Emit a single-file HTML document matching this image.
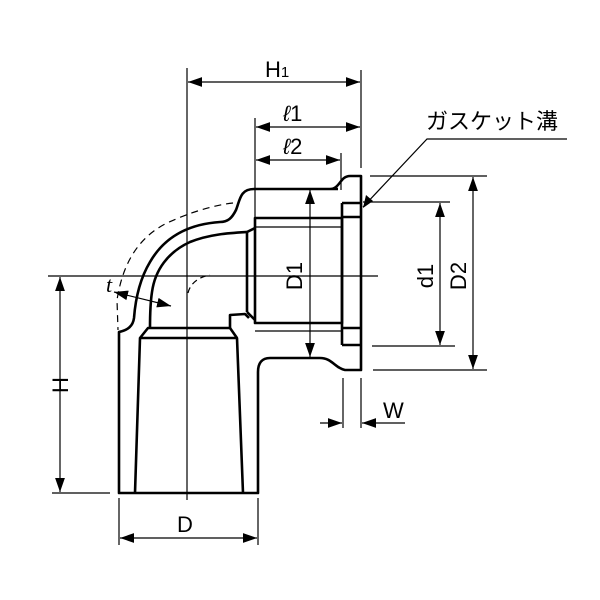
<!DOCTYPE html>
<html><head><meta charset="utf-8"><style>html,body{margin:0;padding:0;background:#fff}svg{display:block}</style></head>
<body>
<svg width="600" height="600" viewBox="0 0 600 600" xmlns="http://www.w3.org/2000/svg">
<defs>
<marker id="a" viewBox="0 0 10 10" refX="10" refY="5" markerWidth="14" markerHeight="14" markerUnits="userSpaceOnUse" orient="auto-start-reverse"><path d="M0,1.5 L10,5 L0,8.5 Z" fill="#000"/></marker>
</defs>
<g fill="none" stroke="#000" stroke-width="1.2">
<line x1="187" y1="68" x2="187" y2="500"/>
<line x1="48" y1="276" x2="378" y2="276"/>
<line x1="361" y1="70" x2="361" y2="168"/>
<line x1="255" y1="118" x2="255" y2="218"/>
<line x1="341" y1="153" x2="341" y2="190"/>
<line x1="370" y1="176" x2="487" y2="176"/>
<line x1="373" y1="370" x2="487" y2="370"/>
<line x1="363" y1="202" x2="450" y2="202"/>
<line x1="372" y1="346" x2="455" y2="346"/>
<line x1="343" y1="378" x2="343" y2="428"/>
<line x1="361" y1="378" x2="361" y2="428"/>
<line x1="52" y1="493" x2="110" y2="493"/>
<line x1="119" y1="498" x2="119" y2="545"/>
<line x1="258" y1="498" x2="258" y2="545"/>
<line x1="188" y1="82" x2="360" y2="82" marker-start="url(#a)" marker-end="url(#a)"/>
<line x1="256" y1="127" x2="360" y2="127" marker-start="url(#a)" marker-end="url(#a)"/>
<line x1="256" y1="160" x2="340" y2="160" marker-start="url(#a)" marker-end="url(#a)"/>
<line x1="310" y1="190" x2="310" y2="357" marker-start="url(#a)" marker-end="url(#a)"/>
<line x1="440" y1="203" x2="440" y2="345" marker-start="url(#a)" marker-end="url(#a)"/>
<line x1="473" y1="177" x2="473" y2="369" marker-start="url(#a)" marker-end="url(#a)"/>
<line x1="60" y1="277" x2="60" y2="492" marker-start="url(#a)" marker-end="url(#a)"/>
<line x1="120" y1="538" x2="257" y2="538" marker-start="url(#a)" marker-end="url(#a)"/>
<line x1="320" y1="423" x2="342" y2="423" marker-end="url(#a)"/>
<line x1="405" y1="423" x2="362" y2="423" marker-end="url(#a)"/>
<line x1="114" y1="292" x2="171" y2="306" marker-start="url(#a)" marker-end="url(#a)"/>
<polyline points="567,139 427,139 363,207" />
<path d="M233,203 C215,205 190,212 165,224 C135,240 122,268 117,300 L118,330" stroke-dasharray="7,5"/>
<path d="M188,293 C190,284 198,277 210,275" stroke-dasharray="6,4"/>
</g>
<path d="M363,208 L366,195 L373,201 Z" fill="#000"/>
<g fill="none" stroke="#000" stroke-width="2.6" stroke-linejoin="round">
<path d="M338,189 L254,189 C240,189 240,200 236,210 C232,218 228,222 220,222 C190,224 165,236 150,262 C138,282 135,305 134,318 C133,326 128,330 119,332 L119,493 L258,493 L258,372 C258,363 262,358 270,358 L320,358 C332,358 335,368 345,370 L361,370 L361,176 L350,176 C340,176 340,189 330,189"/>
<path d="M247,232 C230,233 210,234 190,242 C168,252 155,270 152,292 C150,305 150,318 150,328"/>
<rect x="255" y="218" width="87" height="105"/>
<line x1="247" y1="232" x2="255" y2="228"/>
<line x1="247" y1="232" x2="247" y2="312"/>
<line x1="247" y1="312" x2="255" y2="320"/>
<line x1="342" y1="203" x2="342" y2="345"/>
<line x1="342" y1="203" x2="361" y2="203"/>
<line x1="342" y1="217" x2="361" y2="217"/>
<line x1="342" y1="328" x2="361" y2="328"/>
<line x1="342" y1="345" x2="361" y2="345"/>
<polyline points="135,493 140,338 148,328 230,328 230,315 245,314 249,318"/>
<polyline points="140,338 237,338 243,493"/>
<line x1="230" y1="328" x2="237" y2="338"/>
</g>
<g stroke="#000" stroke-width="1.2">
<line x1="255" y1="227" x2="342" y2="227"/>
<line x1="255" y1="331" x2="342" y2="331"/>
</g>
<g font-family="Liberation Sans, sans-serif" font-size="22" fill="#000">
<text x="265" y="77">H<tspan font-size="15">1</tspan></text>
<text x="283" y="121" font-style="italic">ℓ<tspan font-style="normal">1</tspan></text>
<text x="283" y="154" font-style="italic">ℓ<tspan font-style="normal">2</tspan></text>
<text x="177" y="532">D</text>
<text x="383" y="418">W</text>
<text x="106" y="292" font-style="italic" font-family="Liberation Serif, serif">t</text>
<text transform="translate(68,385) rotate(-90)" text-anchor="middle">H</text>
<text transform="translate(302,276) rotate(-90)" text-anchor="middle">D1</text>
<text transform="translate(433,276) rotate(-90)" text-anchor="middle">d1</text>
<text transform="translate(466,276) rotate(-90)" text-anchor="middle">D2</text>
<text x="426" y="129" font-family="Liberation Sans, 'Noto Sans CJK JP', sans-serif">ガスケット溝</text>
</g>
</svg>
</body></html>
